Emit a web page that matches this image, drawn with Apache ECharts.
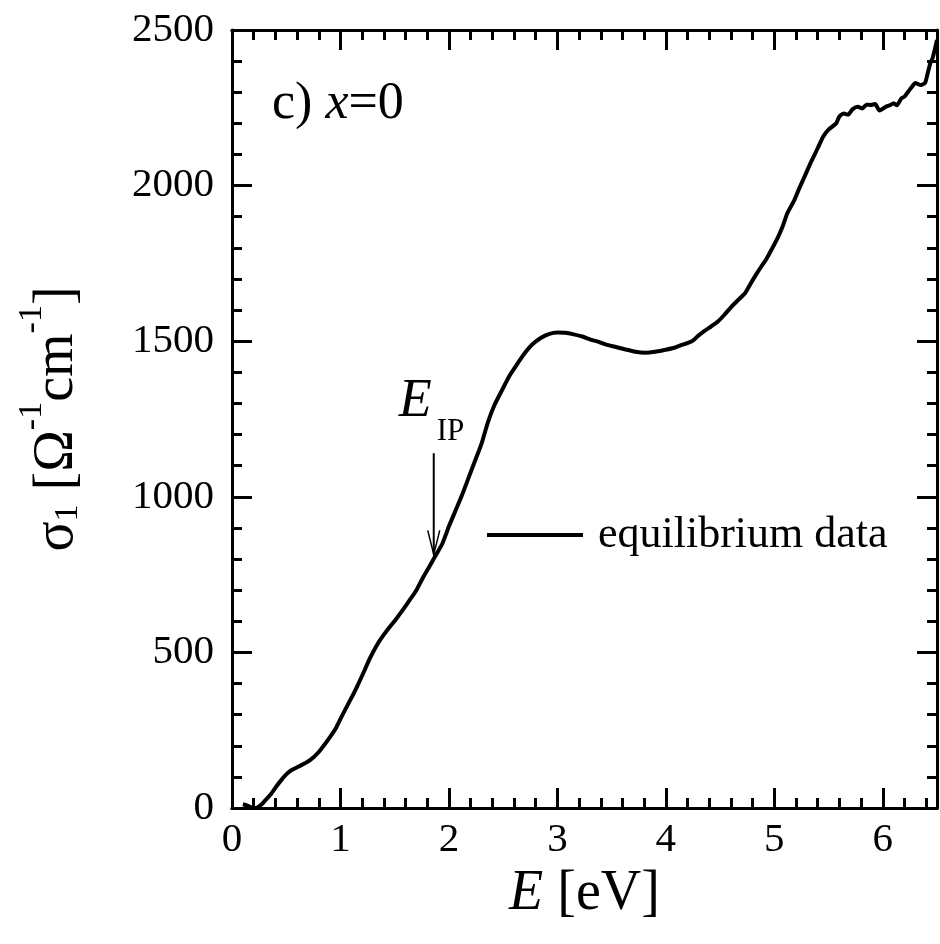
<!DOCTYPE html>
<html>
<head>
<meta charset="utf-8">
<script src="https://cdn.jsdelivr.net/npm/echarts@6/dist/echarts.min.js"></script>
<style>
html,body{margin:0;padding:0;background:#fff;}
#chart{width:940px;height:944px;}
</style>
</head>
<body>
<div id="chart"></div>
<script>
// ---- data ----
const energy = [0.10,0.14,0.18,0.22,0.26,0.30,0.36,0.41,0.46,0.50,0.55,0.62,0.72,0.80,0.90,0.96,1.02,1.08,1.15,1.21,1.27,1.33,1.39,1.45,1.51,1.57,1.63,1.70,1.76,1.82,1.88,1.94,2.00,2.06,2.12,2.18,2.24,2.30,2.36,2.42,2.49,2.56,2.64,2.70,2.77,2.85,2.92,3.00,3.07,3.15,3.23,3.30,3.38,3.45,3.53,3.62,3.72,3.81,3.90,3.99,4.07,4.14,4.24,4.30,4.36,4.42,4.48,4.54,4.60,4.66,4.73,4.78,4.83,4.88,4.93,4.98,5.03,5.08,5.12,5.18,5.23,5.28,5.34,5.40,5.45,5.50,5.57,5.60,5.64,5.68,5.72,5.77,5.81,5.85,5.89,5.93,5.97,6.02,6.07,6.10,6.13,6.17,6.20,6.23,6.27,6.30,6.35,6.39,6.41,6.44,6.46,6.50];
const sigma1 = [12,8,2,0,8,22,45,70,92,108,122,134,154,180,226,258,300,340,388,433,480,520,552,580,606,634,664,700,740,776,813,850,905,955,1005,1060,1115,1170,1240,1295,1343,1390,1432,1462,1490,1511,1523,1528,1527,1522,1515,1506,1498,1489,1482,1474,1466,1463,1466,1472,1478,1487,1500,1518,1534,1548,1563,1585,1609,1630,1654,1684,1713,1740,1766,1798,1831,1872,1911,1950,1991,2030,2077,2120,2157,2180,2200,2222,2232,2228,2245,2253,2248,2260,2259,2262,2241,2252,2259,2265,2258,2280,2286,2300,2318,2330,2323,2330,2355,2395,2410,2468];
const seriesName = 'equilibrium data';
const xRange = [0, 6.5];
const yRange = [0, 2500];
const arrowPoint = [1.86, 815];   // E_IP arrow tip (eV, S/cm)
const arrowTail = [1.86, 1140];

const FONT = 'Liberation Serif';
const data = energy.map((e, i) => [e, sigma1[i]]);

function intLabel(v) {
  return Math.abs(v - Math.round(v)) < 1e-6 ? String(Math.round(v)) : '';
}
const lineW = 3;
function xAx(pos, interval, len, labels) {
  return {
    type: 'value', position: pos, min: xRange[0], max: xRange[1], interval: interval,
    axisLine: { show: true, onZero: false, lineStyle: { color: '#000', width: lineW } },
    axisTick: { show: true, inside: true, length: len, lineStyle: { color: '#000', width: lineW } },
    axisLabel: labels ? { show: true, formatter: intLabel, fontFamily: FONT, fontSize: 41, color: '#000', margin: 12 } : { show: false },
    splitLine: { show: false }
  };
}
function yAx(pos, labels) {
  return {
    type: 'value', position: pos, min: yRange[0], max: yRange[1], interval: 500,
    axisLine: { show: true, onZero: false, lineStyle: { color: '#000', width: lineW } },
    axisTick: { show: true, inside: true, length: 20, lineStyle: { color: '#000', width: lineW } },
    minorTick: { show: true, splitNumber: 5, length: 10, lineStyle: { color: '#000', width: lineW } },
    axisLabel: labels ? { show: true, formatter: v => String(v), fontFamily: FONT, fontSize: 41, color: '#000', margin: 18 } : { show: false },
    splitLine: { show: false }, minorSplitLine: { show: false }
  };
}

const xAxes = [xAx('bottom', 0.2, 10, true), xAx('bottom', 1, 20, false), xAx('top', 0.2, 10, false), xAx('top', 1, 20, false)];
xAxes[0].name = '{i|E}{n| [eV]}';
xAxes[0].nameLocation = 'middle';
xAxes[0].nameGap = 58;
xAxes[0].nameTextStyle = { fontFamily: FONT, rich: {
  i: { fontFamily: FONT, fontSize: 56, fontStyle: 'italic', color: '#000' },
  n: { fontFamily: FONT, fontSize: 56, color: '#000' } } };

const yAxes = [yAx('left', true), yAx('right', false)];

const chart = echarts.init(document.getElementById('chart'), null, { renderer: 'canvas' });
chart.setOption({
  animation: false,
  backgroundColor: '#fff',
  grid: { left: 232, right: 0, top: 30, bottom: 136, containLabel: false },
  xAxis: xAxes,
  yAxis: yAxes,
  legend: {
    left: 487, top: 513, padding: 0, icon: 'rect', itemWidth: 96, itemHeight: 4,
    data: [seriesName],
    textStyle: { fontFamily: FONT, fontSize: 44, color: '#000', padding: [0, 0, 0, 10] }
  },
  series: [{
    name: seriesName, type: 'line', xAxisIndex: 0, yAxisIndex: 0,
    data: data, showSymbol: false, symbol: 'none', smooth: 0.2,
    lineStyle: { color: '#000', width: 4 }, itemStyle: { color: '#000' }
  }]
});

// annotations anchored to data coordinates
const tip = chart.convertToPixel({ xAxisIndex: 0, yAxisIndex: 0 }, arrowPoint);
const tail = chart.convertToPixel({ xAxisIndex: 0, yAxisIndex: 0 }, arrowTail);
const yMid = chart.convertToPixel({ yAxisIndex: 0 }, (yRange[0] + yRange[1]) / 2);
chart.setOption({
  graphic: [
    { type: 'line', shape: { x1: tail[0], y1: tail[1], x2: tip[0], y2: tip[1] }, style: { stroke: '#000', lineWidth: 2 } },
    { type: 'polyline', shape: { points: [[tip[0] - 6, tip[1] - 24], [tip[0], tip[1]], [tip[0] + 6, tip[1] - 24]] }, style: { stroke: '#000', lineWidth: 1.5, fill: null } },
    { type: 'text', left: tail[0] - 35, top: tail[1] - 78, style: { text: 'E', font: 'italic 54px "Liberation Serif"', fill: '#000' } },
    { type: 'text', left: tail[0] + 3, top: tail[1] - 37, style: { text: 'IP', font: '31px "Liberation Serif"', fill: '#000' } },
    { type: 'text', left: 272, top: 78, style: {
        text: '{n|c) }{i|x}{n|=0}',
        rich: { n: { fontFamily: FONT, fontSize: 52, fill: '#000' }, i: { fontFamily: FONT, fontSize: 52, fontStyle: 'italic', fill: '#000' } } } },
    { type: 'text', x: 50, y: yMid, rotation: Math.PI / 2, style: {
        text: '{ma|σ}{lo|1}{ma| [Ω}{hi|-1}{ma|cm}{hi|-1}{ma|]}',
        align: 'center', verticalAlign: 'middle',
        rich: {
          ma: { fontFamily: FONT, fontSize: 56, fill: '#000', lineHeight: 70, verticalAlign: 'bottom' },
          lo: { fontFamily: FONT, fontSize: 34, fill: '#000', lineHeight: 40, verticalAlign: 'bottom' },
          hi: { fontFamily: FONT, fontSize: 34, fill: '#000', lineHeight: 34, verticalAlign: 'top' } } } }
  ]
});
</script>
</body>
</html>
